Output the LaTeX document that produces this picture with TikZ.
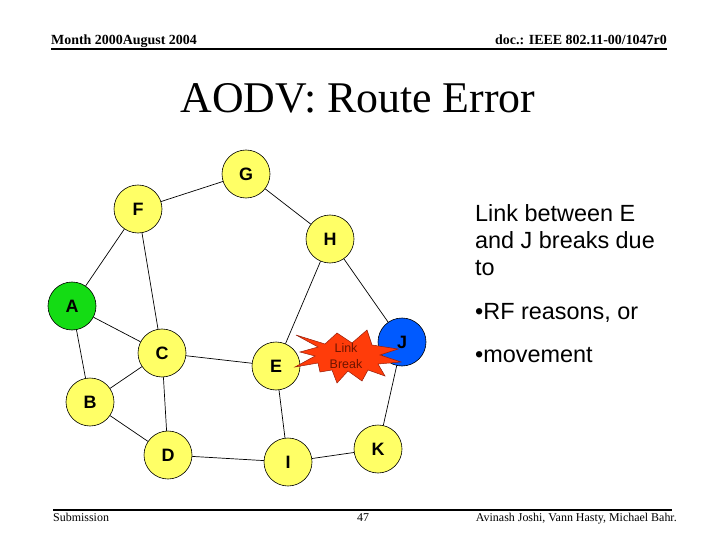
\documentclass[tikz,border=0pt]{standalone}
\usepackage{fontspec}
\setmainfont{Liberation Serif}
\setsansfont{Liberation Sans}
\definecolor{nodeyellow}{RGB}{255,255,102}
\definecolor{srcgreen}{RGB}{20,220,20}
\definecolor{dstblue}{RGB}{0,90,255}
\definecolor{burstred}{RGB}{255,60,10}
\definecolor{burstedge}{RGB}{150,30,10}
\definecolor{bursttext}{RGB}{110,20,0}

\begin{document}
\begin{tikzpicture}[x=1bp, y=-1bp,
    station/.style={circle, draw, line width=0.6bp, fill=nodeyellow,
      minimum size=48bp, inner sep=0pt,
      font=\sffamily\bfseries\fontsize{18}{18}\selectfont},
    link/.style={line width=0.7bp},
    note/.style={anchor=base west, inner sep=0pt,
      font=\sffamily\fontsize{23.5}{27}\selectfont},
    slidetext/.style={inner sep=0pt, font=\fontsize{12}{12}\selectfont}]
  \useasboundingbox (0,0) rectangle (720,540);

  % header and footer
  \node[slidetext, anchor=base west, font=\bfseries\fontsize{14}{14}\selectfont]
    (month) at (51,45) {Month 2000August 2004};
  \node[slidetext, anchor=base east, font=\bfseries\fontsize{14}{14}\selectfont]
    (docid) at (667,45) {doc.: IEEE 802.11-00/1047r0};
  \draw[line width=2bp] (51,49) -- (667,49);
  \draw[line width=2bp] (53,510) -- (672,510);
  \node[slidetext, anchor=base west] (submission) at (53,521) {Submission};
  \node[slidetext, anchor=base] (pageno) at (363,521) {47};
  \node[slidetext, anchor=base east] (authors) at (677,521)
    {Avinash Joshi, Vann Hasty, Michael Bahr.};

  \node[anchor=base, inner sep=0pt, font=\fontsize{44}{44}\selectfont]
    (title) at (358,113) {AODV: Route Error};

  % the network
  \node[station] (G) at (246,174) {G};
  \node[station] (F) at (138,209) {F};
  \node[station] (H) at (330,239) {H};
  \node[station, fill=srcgreen] (A) at (72,306) {A};
  \node[station] (C) at (162,353) {C};
  \node[station] (E) at (276,366) {E};
  \node[station, fill=dstblue] (J) at (402,342) {J};
  \node[station] (B) at (90,402) {B};
  \node[station] (D) at (168,455) {D};
  \node[station] (I) at (288,462) {I};
  \node[station] (K) at (378,449) {K};

  \draw[link]
    (F) edge (G)
    (G) edge (H)
    (A) edge (F)
    (F) edge (C)
    (A) edge (C)
    (A) edge (B)
    (B) edge (C)
    (B) edge (D)
    (C) edge (D)
    (C) edge (E)
    (E) edge (H)
    (H) edge (J)
    (J) edge (K)
    (E) edge (I)
    (D) edge (I)
    (I) edge (K);

  % broken link E--J
  \draw[fill=burstred, draw=burstedge, line width=0.5bp]
    (296,335) -- (325,344) -- (337,333) -- (352,343) -- (367,330)
    -- (372,345) -- (398,349) -- (380,355) -- (401,362) -- (378,364)
    -- (385,376) -- (368,370) -- (362,381) -- (348,371) -- (337,383)
    -- (332,370) -- (320,372) -- (318,363) -- (295,367) -- (315,356)
    -- (300,352) -- (318,347) -- cycle;
  \node[align=center, inner sep=0pt, text=bursttext,
    font=\sffamily\fontsize{12.5}{16}\selectfont] (brk) at (346,356) {Link\\Break};

  % explanation
  \node[note] (why1) at (475,222) {Link between E};
  \node[note] (why2) at (475,249) {and J breaks due};
  \node[note] (why3) at (475,276) {to};
  \node[note] (rf) at (475,319) {\textbullet RF reasons, or};
  \node[note] (move) at (475,362) {\textbullet movement};
\end{tikzpicture}
\end{document}
